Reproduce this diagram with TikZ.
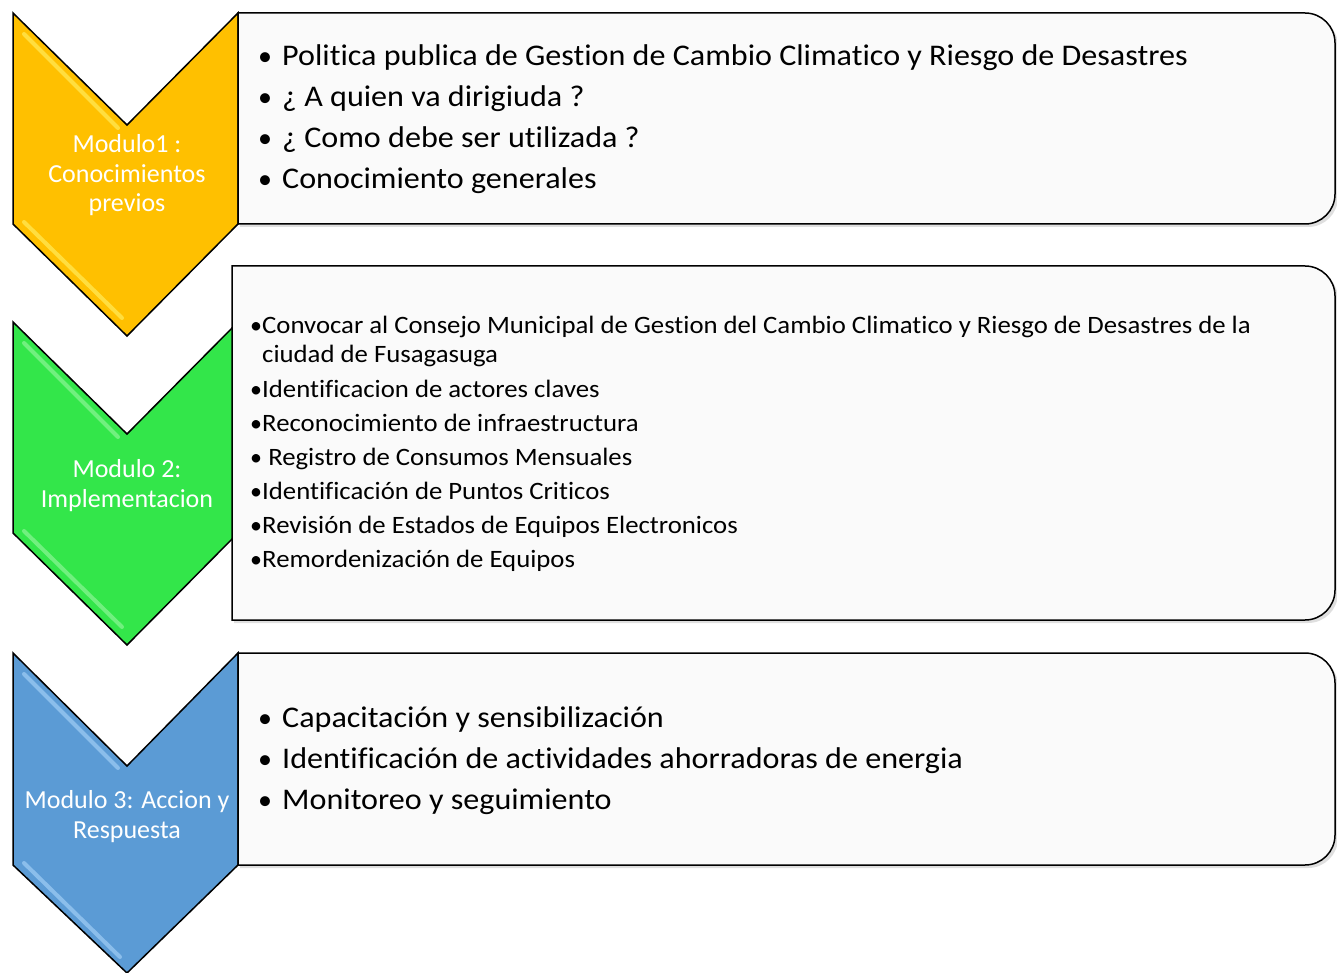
\documentclass[tikz,border=0pt]{standalone}
\usepackage{fontspec}
\setmainfont{Carlito}[Ligatures=NoCommon]
\newfontfamily\itemfont{Carlito}[Ligatures=NoCommon,FakeStretch=1.07]
\definecolor{modorange}{RGB}{255,192,0}
\definecolor{modgreen}{RGB}{51,230,74}
\definecolor{modblue}{RGB}{91,155,213}
\definecolor{glintorange}{RGB}{255,236,90}
\definecolor{glintgreen}{RGB}{140,245,150}
\definecolor{glintblue}{RGB}{160,205,245}
\definecolor{boxfill}{RGB}{250,250,250}
\begin{document}
\begin{tikzpicture}[x=1pt,y=-1pt]
\tikzset{
  chev/.style={draw=black,line width=1.5pt,line join=miter},
  glint/.style={line width=4pt,line cap=round,opacity=0.7},
  modbox/.style={draw=black,line width=1.5pt,fill=boxfill},
  shade/.style={fill=black!25,opacity=0.5},
  modlabel/.style={text=white,font=\fontsize{26}{30}\selectfont,anchor=base,inner sep=0pt},
  bigitem/.style={font=\itemfont\fontsize{30}{36}\selectfont,anchor=base west,inner sep=0pt},
  smallitem/.style={font=\itemfont\fontsize{25}{30}\selectfont,anchor=base west,inner sep=0pt},
  bigdot/.style={font=\fontsize{28}{34}\selectfont,anchor=base,inner sep=0pt},
  smalldot/.style={font=\fontsize{24}{29}\selectfont,anchor=base,inner sep=0pt}
}
\useasboundingbox (0,0) rectangle (1337,973);

\draw [chev,fill=modorange] (13,13) -- (127,125) -- (238,13) -- (238,224) -- (127,336) -- (13,224) -- cycle;
\draw [glint,color=glintorange] (24,34) -- (118,128);
\draw [glint,color=glintorange] (24,222) -- (122,318);
\node [modlabel] (lab1a) at (127,153) {Modulo1 :};
\node [modlabel] (lab1b) at (127,183) {Conocimientos};
\node [modlabel] (lab1c) at (127,212) {previos};

\fill [shade] (240,16) -- (1307,16) [rounded corners=30pt] -- (1338,16) -- (1338,227) [sharp corners] -- (240,227) -- cycle;
\draw [modbox] (238,224) -- (238,13) [rounded corners=30pt] -- (1335,13) -- (1335,224) [sharp corners] -- cycle;
\foreach \t [count=\i] in {{Politica publica de Gestion de Cambio Climatico y Riesgo de Desastres},{¿ A quien va dirigiuda ?},{¿ Como debe ser utilizada ?},{Conocimiento generales}}{
  \node [bigdot] (dot1\i) at (265,66+41*\i-41) {•};
  \node [bigitem] (item1\i) at (282,66+41*\i-41) {\t};
}

\draw [chev,fill=modgreen] (13,322) -- (127,434) -- (238,322) -- (238,533) -- (127,645) -- (13,533) -- cycle;
\draw [glint,color=glintgreen] (24,343) -- (118,437);
\draw [glint,color=glintgreen] (24,531) -- (122,627);
\node [modlabel] (lab2a) at (127,477) {Modulo 2:};
\node [modlabel] (lab2b) at (127,507) {Implementacion};

\fill [shade] (234,269) -- (1307,269) [rounded corners=30pt] -- (1338,269) -- (1338,623) [sharp corners] -- (234,623) -- cycle;
\draw [modbox] (232,620) -- (232,266) [rounded corners=30pt] -- (1335,266) -- (1335,620) [sharp corners] -- cycle;
\node [smalldot] (dot21) at (256,333) {•};
\node [smallitem] (item21) at (262,333) {Convocar al Consejo Municipal de Gestion del Cambio Climatico y Riesgo de Desastres de la};
\node [smallitem] (item21b) at (262,362) {ciudad de Fusagasuga};
\foreach \t [count=\i from 2] in {{Identificacion de actores claves},{Reconocimiento de infraestructura},{\ Registro de Consumos Mensuales},{Identificación de Puntos Criticos},{Revisión de Estados de Equipos Electronicos},{Remordenización de Equipos}}{
  \node [smalldot] (dot2\i) at (256,397+34*\i-68) {•};
  \node [smallitem] (item2\i) at (262,397+34*\i-68) {\t};
}

\draw [chev,fill=modblue] (13,653) -- (127,766) -- (238,653) -- (238,865) -- (127,973) -- (13,865) -- cycle;
\draw [glint,color=glintblue] (24,674) -- (118,768);
\draw [glint,color=glintblue] (24,863) -- (120,957);
\node [modlabel] (lab3a) at (127,808) {Modulo 3: Accion y};
\node [modlabel] (lab3b) at (127,838) {Respuesta};

\fill [shade] (240,656) -- (1307,656) [rounded corners=30pt] -- (1338,656) -- (1338,868) [sharp corners] -- (240,868) -- cycle;
\draw [modbox] (238,865) -- (238,653) [rounded corners=30pt] -- (1335,653) -- (1335,865) [sharp corners] -- cycle;
\foreach \t [count=\i] in {{Capacitación y sensibilización},{Identificación de actividades ahorradoras de energia},{Monitoreo y seguimiento}}{
  \node [bigdot] (dot3\i) at (265,727+41*\i-41) {•};
  \node [bigitem] (item3\i) at (282,727+41*\i-41) {\t};
}
\end{tikzpicture}
\end{document}
